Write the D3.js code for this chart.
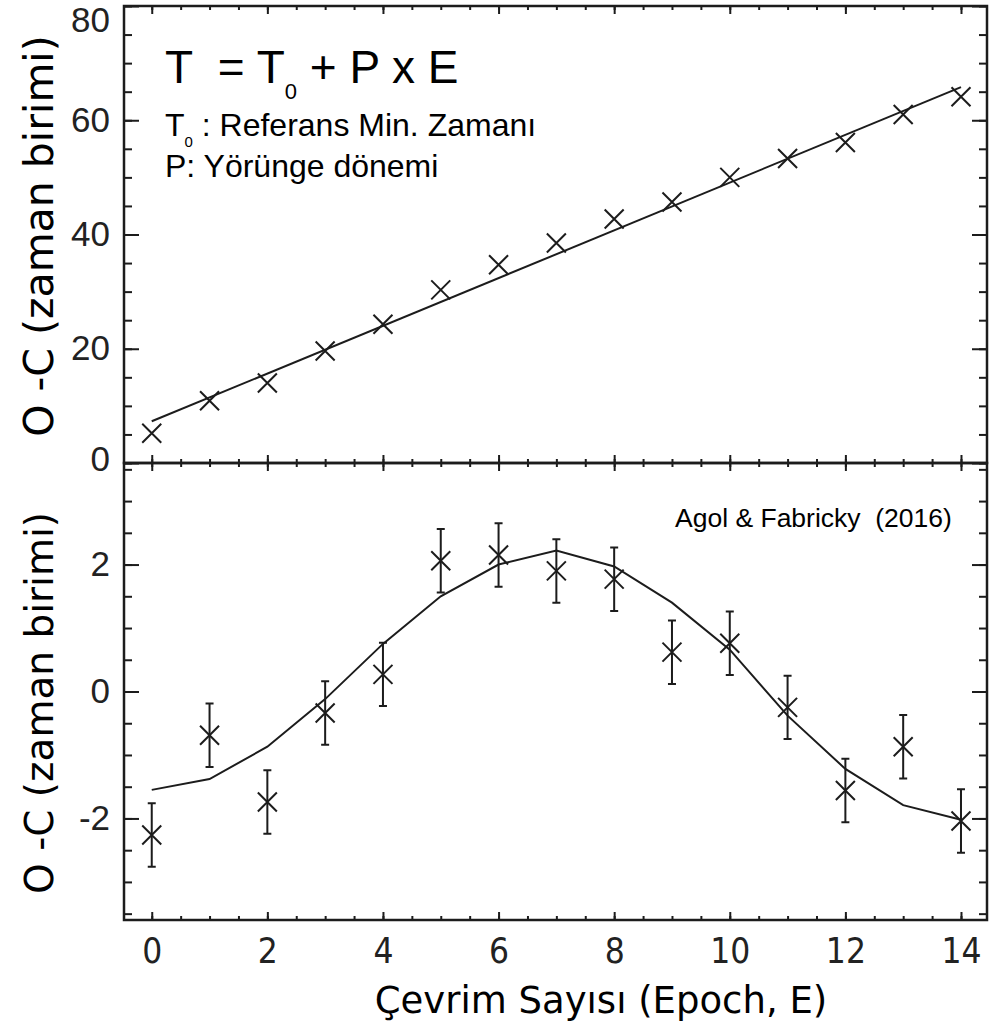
<!DOCTYPE html>
<html>
<head>
<meta charset="utf-8">
<script src="https://cdn.jsdelivr.net/npm/d3@7"></script>
<style>
  html, body { margin: 0; padding: 0; background: #fff; }
  svg { display: block; }
  text { white-space: pre; }
</style>
</head>
<body>
<svg id="chart" width="995" height="1024"></svg>
<script>
// ---- data ----
const epochs = [0,1,2,3,4,5,6,7,8,9,10,11,12,13,14];
const topOC  = [5.2, 10.9, 14.0, 19.6, 24.3, 30.3, 34.7, 38.5, 42.7, 45.7, 50.0, 53.3, 56.1, 61.0, 64.1];
const topFitE = [0, 14];
const topFit  = [7.3, 65.8];
const botOC  = [-2.26, -0.69, -1.74, -0.34, 0.27, 2.06, 2.15, 1.90, 1.77, 0.62, 0.76, -0.25, -1.56, -0.87, -2.04];
const botErr = [0.5, 0.5, 0.5, 0.5, 0.5, 0.5, 0.5, 0.5, 0.5, 0.5, 0.5, 0.5, 0.5, 0.5, 0.5];
const botFit = [-1.55, -1.38, -0.87, -0.12, 0.75, 1.50, 2.00, 2.22, 1.97, 1.40, 0.66, -0.38, -1.22, -1.79, -2.02];
const xMajorTicks = [0, 2, 4, 6, 8, 10, 12, 14];
const xMinorTicks = d3.range(0, 14.01, 0.5);
const topMajorTicks = [0, 20, 40, 60, 80];
const topMinorTicks = d3.range(0, 80.1, 5);
const botMajorTicks = [-2, 0, 2];
const botMinorTicks = d3.range(-3.5, 3.51, 0.5);

const ink = "#1c1c1c";
const svg = d3.select("#chart");

const L = 124, R = 987, T1 = 6, MID = 463, B2 = 920;
const x = d3.scaleLinear().domain([-0.48, 14.45]).range([L, R]);
const yTop = d3.scaleLinear().domain([0, 80]).range([MID, T1]);
const yBot = d3.scaleLinear().domain([-3.6, 3.6]).range([B2, MID]);
const plain = d => String(d);

function styleAxis(g, showLabels, fontSize, family) {
  g.attr("font-size", null).attr("font-family", null);
  g.select(".domain").remove();
  g.selectAll(".tick line").attr("stroke", ink).attr("stroke-width", 2);
  g.selectAll(".tick text")
    .attr("fill", "#222")
    .style("font-family", family || "'Liberation Sans', Arial, sans-serif")
    .style("font-size", (fontSize || 30) + "px")
    .style("display", showLabels ? null : "none");
}

function addAxis(gen, tx, ty, labels, fs, family) {
  const g = svg.append("g").attr("transform", `translate(${tx},${ty})`).call(gen);
  styleAxis(g, labels, fs, family);
  return g;
}

// ---- top panel axes ----
addAxis(d3.axisLeft(yTop).tickValues(topMinorTicks).tickSize(-8).tickFormat(""), L, 0, false);
const yTopLab = addAxis(d3.axisLeft(yTop).tickValues(topMajorTicks).tickSize(-15).tickPadding(14).tickFormat(plain), L, 0, true, 35);
// top-most label sits below its tick in the reference, bottom one slightly above
yTopLab.selectAll(".tick").filter(d => d === 80).select("text").attr("dy", "0.74em");
yTopLab.selectAll(".tick").filter(d => d === 0).select("text").attr("dy", "0.2em");
addAxis(d3.axisRight(yTop).tickValues(topMinorTicks).tickSize(-8).tickFormat(""), R, 0, false);
addAxis(d3.axisRight(yTop).tickValues(topMajorTicks).tickSize(-15).tickFormat(""), R, 0, false);
addAxis(d3.axisTop(x).tickValues(xMinorTicks).tickSize(-4).tickFormat(""), 0, T1, false);
addAxis(d3.axisTop(x).tickValues(xMajorTicks).tickSize(-8).tickFormat(""), 0, T1, false);
addAxis(d3.axisBottom(x).tickValues(xMinorTicks).tickSize(-4).tickFormat(""), 0, MID, false);
addAxis(d3.axisBottom(x).tickValues(xMajorTicks).tickSize(-8).tickFormat(""), 0, MID, false);

// ---- bottom panel axes ----
addAxis(d3.axisLeft(yBot).tickValues(botMinorTicks).tickSize(-8).tickFormat(""), L, 0, false);
addAxis(d3.axisLeft(yBot).tickValues(botMajorTicks).tickSize(-15).tickPadding(14).tickFormat(plain), L, 0, true, 35);
addAxis(d3.axisRight(yBot).tickValues(botMinorTicks).tickSize(-8).tickFormat(""), R, 0, false);
addAxis(d3.axisRight(yBot).tickValues(botMajorTicks).tickSize(-15).tickFormat(""), R, 0, false);
addAxis(d3.axisTop(x).tickValues(xMinorTicks).tickSize(-4).tickFormat(""), 0, MID, false);
addAxis(d3.axisTop(x).tickValues(xMajorTicks).tickSize(-8).tickFormat(""), 0, MID, false);
addAxis(d3.axisBottom(x).tickValues(xMinorTicks).tickSize(-4).tickFormat(""), 0, B2, false);
addAxis(d3.axisBottom(x).tickValues(xMajorTicks).tickSize(-8).tickPadding(18).tickFormat(plain), 0, B2, true, 35,
  "'Liberation Sans Narrow', 'DejaVu Sans Condensed', 'Liberation Sans', sans-serif");

// ---- frames ----
svg.append("rect").attr("x", L).attr("y", T1).attr("width", R - L).attr("height", MID - T1)
  .attr("fill", "none").attr("stroke", ink).attr("stroke-width", 2.5);
svg.append("rect").attr("x", L).attr("y", MID).attr("width", R - L).attr("height", B2 - MID)
  .attr("fill", "none").attr("stroke", ink).attr("stroke-width", 2.5);

// ---- marks ----
function crosses(g, xs, ys, s) {
  g.selectAll(null).data(xs.map((e, i) => [e, ys[i]])).enter().append("path")
    .attr("d", d => {
      const cx = x(d[0]), cy = d[1];
      return `M${cx - s},${cy - s}L${cx + s},${cy + s}M${cx - s},${cy + s}L${cx + s},${cy - s}`;
    })
    .attr("stroke", ink).attr("stroke-width", 2).attr("fill", "none");
}

// top
const gTop = svg.append("g");
gTop.append("path")
  .datum(topFitE.map((e, i) => [e, topFit[i]]))
  .attr("d", d3.line().x(d => x(d[0])).y(d => yTop(d[1])))
  .attr("stroke", ink).attr("stroke-width", 2).attr("fill", "none");
crosses(gTop, epochs, epochs.map((e, i) => yTop(topOC[i])), 9.5);

// bottom
const gBot = svg.append("g");
gBot.append("path")
  .datum(epochs.map((e, i) => [e, botFit[i]]))
  .attr("d", d3.line().x(d => x(d[0])).y(d => yBot(d[1])))
  .attr("stroke", ink).attr("stroke-width", 2).attr("fill", "none");
const eb = gBot.selectAll(".eb").data(epochs.map((e, i) => ({e, v: botOC[i], err: botErr[i]}))).enter().append("g");
eb.append("path")
  .attr("d", d => {
    const cx = x(d.e), y1 = yBot(d.v + d.err), y2 = yBot(d.v - d.err);
    return `M${cx},${y1}L${cx},${y2}M${cx - 4},${y1}L${cx + 4},${y1}M${cx - 4},${y2}L${cx + 4},${y2}`;
  })
  .attr("stroke", ink).attr("stroke-width", 2).attr("fill", "none");
crosses(gBot, epochs, epochs.map((e, i) => yBot(botOC[i])), 9.5);

// ---- texts ----
const sans = "'Liberation Sans', Arial, sans-serif";
const f1 = svg.append("text").attr("x", 165).attr("y", 83).attr("fill", "#000")
  .style("font-family", sans).style("font-size", "46px");
f1.append("tspan").text("T  = T");
f1.append("tspan").attr("dy", 16).style("font-size", "22px").text("0");
f1.append("tspan").attr("dy", -16).text(" + P x E");

const f2 = svg.append("text").attr("x", 165).attr("y", 136).attr("fill", "#000")
  .style("font-family", sans).style("font-size", "32px");
f2.append("tspan").text("T");
f2.append("tspan").attr("dy", 11).style("font-size", "15px").text("0");
f2.append("tspan").attr("dy", -11).text(" : Referans Min. Zamanı");

svg.append("text").attr("x", 165).attr("y", 177).attr("fill", "#000")
  .style("font-family", sans).style("font-size", "32px").text("P: Yörünge dönemi");

svg.append("text").attr("x", 675).attr("y", 527).attr("fill", "#000")
  .style("font-family", sans).style("font-size", "26.5px").text("Agol & Fabricky  (2016)");

const dj = "'DejaVu Sans', sans-serif";
svg.append("text").attr("transform", "translate(53,236) rotate(-90)").attr("text-anchor", "middle")
  .attr("fill", "#000").style("font-family", dj).style("font-size", "41px").text("O -C (zaman birimi)");
svg.append("text").attr("transform", "translate(53,703) rotate(-90)").attr("text-anchor", "middle")
  .attr("fill", "#000").style("font-family", dj).style("font-size", "39px").text("O -C (zaman birimi)");
svg.append("text").attr("x", 601).attr("y", 1013).attr("text-anchor", "middle")
  .attr("fill", "#000").style("font-family", dj).style("font-size", "37px").text("Çevrim Sayısı (Epoch, E)");
</script>
</body>
</html>
